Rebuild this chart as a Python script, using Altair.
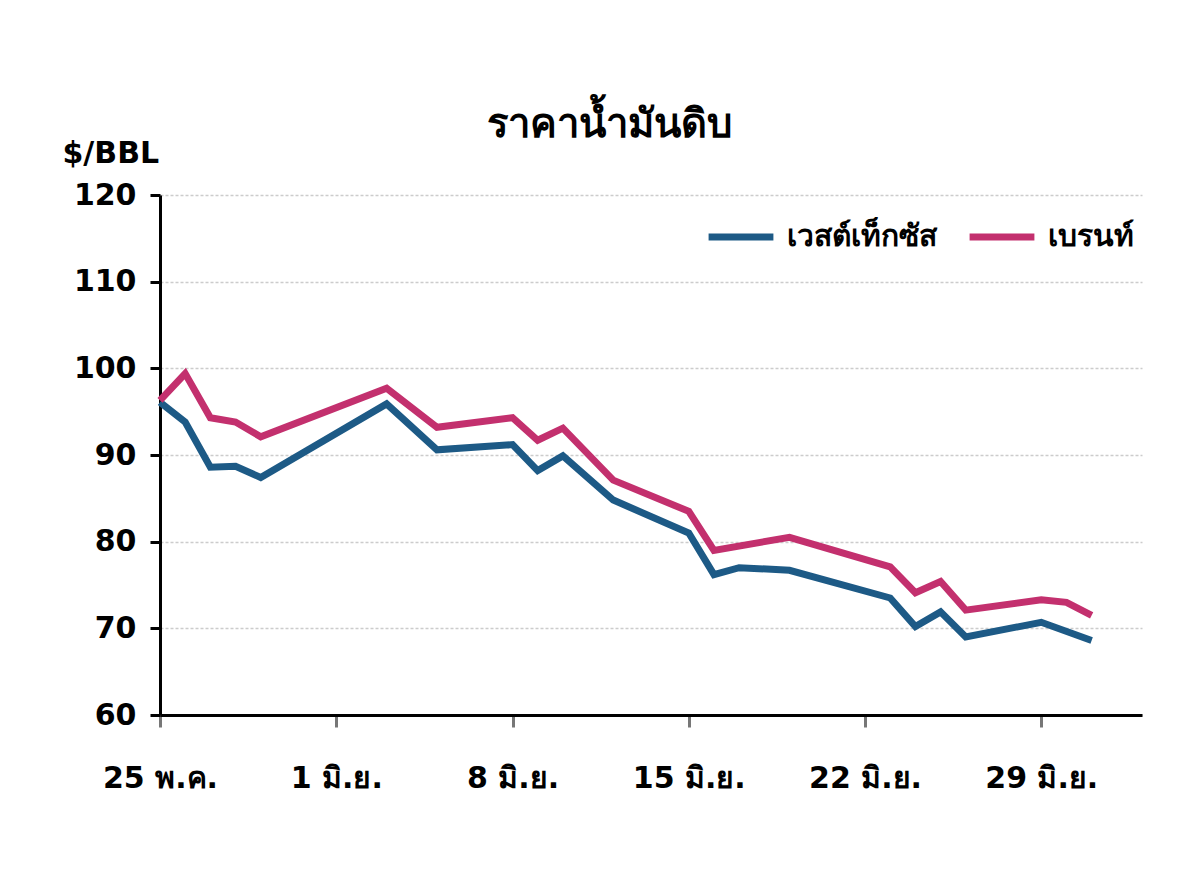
import altair as alt
import pandas as pd

# days counted from 25 May
wti_days = [0, 1, 2, 3, 4, 9, 11, 14, 15, 16, 18, 21, 22, 23, 25, 29, 30, 31, 32, 35, 37]
wti_price = [96.1, 93.8, 88.6, 88.7, 87.4, 95.9, 90.6, 91.2, 88.2, 89.9, 84.8, 81.0,
             76.2, 77.0, 76.7, 73.5, 70.2, 71.9, 69.0, 70.7, 68.6]

brent_days = [0, 1, 2, 3, 4, 9, 11, 14, 15, 16, 18, 21, 22, 25, 29, 30, 31, 32, 35, 36, 37]
brent_price = [96.3, 99.4, 94.3, 93.8, 92.1, 97.7, 93.2, 94.3, 91.7, 93.1, 87.1, 83.5,
               79.0, 80.5, 77.1, 74.1, 75.4, 72.1, 73.3, 73.0, 71.5]

series = ['เวสต์เท็กซัส', 'เบรนท์']
colors = ['#1d5a86', '#c3306e']

tick_days = [0, 7, 14, 21, 28, 35]
tick_labels = ['25 พ.ค.', '1 มิ.ย.', '8 มิ.ย.', '15 มิ.ย.', '22 มิ.ย.', '29 มิ.ย.']

data = pd.concat([
    pd.DataFrame({'day': wti_days, 'price': wti_price, 'series': series[0]}),
    pd.DataFrame({'day': brent_days, 'price': brent_price, 'series': series[1]}),
])

label_expr = ' : '.join(f"datum.value == {d} ? '{l}'" for d, l in zip(tick_days, tick_labels)) + " : ''"

FONT = 'DejaVu Sans'
FS = 30

chart = (alt.Chart(data).mark_line(strokeWidth=7, strokeJoin='miter')
         .encode(x=alt.X('day:Q',
                         scale=alt.Scale(domain=[0, 39], nice=False, zero=False),
                         axis=alt.Axis(values=tick_days, labelExpr=label_expr, title=None,
                                       grid=False, domainColor='black', domainWidth=3,
                                       tickColor='#777777', tickWidth=3, tickSize=12,
                                       labelFlush=False, labelOverlap=False,
                                       labelPadding=36, labelFontSize=FS, labelFontWeight='bold',
                                       labelFont=FONT, labelColor='black')),
                 y=alt.Y('price:Q',
                         scale=alt.Scale(domain=[60, 120], nice=False, zero=False),
                         axis=alt.Axis(values=[60, 70, 80, 90, 100, 110, 120], title='$/BBL',
                                       titleAngle=0, titleAlign='left', titleBaseline='alphabetic',
                                       titleX=-98, titleY=-33, titleFontSize=FS, titleFont=FONT,
                                       titleFontWeight='bold', titleColor='black',
                                       grid=True, gridColor='#cccccc', gridDash=[3, 2], gridWidth=1.5,
                                       domainColor='black', domainWidth=3,
                                       tickColor='black', tickWidth=3, tickSize=10,
                                       labelPadding=14, labelFontSize=FS, labelFontWeight='bold',
                                       labelFont=FONT, labelColor='black')),
                 color=alt.Color('series:N',
                                 scale=alt.Scale(domain=series, range=colors),
                                 legend=alt.Legend(title=None, orient='none', direction='horizontal',
                                                   legendX=545, legendY=6, symbolType='stroke',
                                                   symbolSize=4200, symbolStrokeWidth=7,
                                                   labelFontSize=FS, labelFont=FONT,
                                                   labelFontWeight='bold', labelColor='black',
                                                   columnPadding=18, labelOffset=10)))
         .properties(width=982, height=520,
                     title=alt.TitleParams('ราคาน้ำมันดิบ', fontSize=40, font=FONT, fontWeight='bold',
                                           anchor='start', frame='group', dx=327, offset=50, dy=57,
                                           color='black'),
                     autosize=alt.AutoSizeParams(type='none'),
                     padding={'left': 152, 'top': 187, 'right': 20, 'bottom': 140})
         .configure_view(stroke=None)
        )

chart.save('out.html', embed_options={'renderer': 'svg', 'actions': False})
